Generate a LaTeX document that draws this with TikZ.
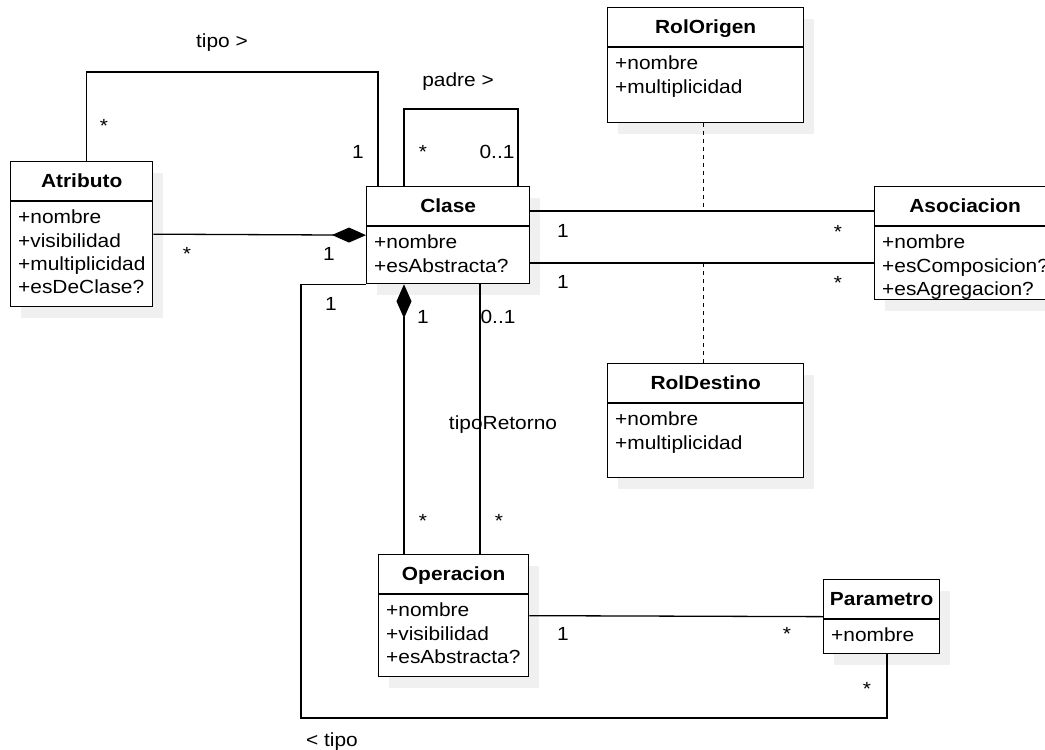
\documentclass[tikz,border=0pt]{standalone}
\usepackage{fontspec}
\setmainfont{Liberation Sans}[FakeStretch=1.1]
\usetikzlibrary{arrows.meta,shadows,calc}

% UML class box: name, left, top, width, height, title, attributes
\newcommand\umlclass[7]{%
  \node[classbox, minimum width=#4pt, minimum height=#5pt] (#1) at (#2,#3) {};
  \draw[link] ([yshift=-40pt]#1.north west) -- ([yshift=-40pt]#1.north east);
  \node[classtitle] (#1-name) at ([yshift=-26.8pt]#1.north) {#6};
  \node[classattr] (#1-attrs) at ([xshift=8pt,yshift=-46.4pt]#1.north west) {#7};
}

\begin{document}
\begin{tikzpicture}[x=1pt, y=-1pt,
  link/.style={draw=black, line width=1.3pt},
  classbox/.style={draw=black, fill=white, line width=1.3pt, inner sep=0pt, anchor=north west,
    general shadow={fill=black!6, shadow xshift=10pt, shadow yshift=-11pt}},
  classtitle/.style={font=\fontsize{19}{23.3}\selectfont\bfseries, inner sep=0pt, anchor=base},
  classattr/.style={font=\fontsize{19}{23.3}\selectfont, align=left, inner sep=0pt, anchor=north west},
  lbl/.style={font=\fontsize{19}{23.3}\selectfont, inner sep=0pt, anchor=base},
  compose/.style={link, -{Diamond[length=34pt,width=15pt]}},
  rolelink/.style={link, dash pattern=on 4pt off 4pt},
]
\useasboundingbox (0,0) rectangle (1045,750);
\clip (0,0) rectangle (1045,750);
\fill[white] (0,0) rectangle (1045,750);

% classes
\umlclass{atributo}{10}{161}{142}{145}{Atributo}{\strut+nombre\\+visibilidad\\+multiplicidad\\+esDeClase?}
\umlclass{clase}{366}{186}{163}{97}{Clase}{\strut+nombre\\+esAbstracta?}
\umlclass{asociacion}{874}{186}{181}{113}{Asociacion}{\strut+nombre\\+esComposicion?\\+esAgregacion?}
\umlclass{rolorigen}{607}{7}{196}{115}{RolOrigen}{\strut+nombre\\+multiplicidad}
\umlclass{roldestino}{607}{363}{196}{114}{RolDestino}{\strut+nombre\\+multiplicidad}
\umlclass{operacion}{378}{554}{150}{122}{Operacion}{\strut+nombre\\+visibilidad\\+esAbstracta?}
\umlclass{parametro}{823}{579}{116}{74}{Parametro}{\strut+nombre}

% Atributo -> Clase (tipo)
\draw[link] ([xshift=5pt]atributo.north) -- ++(0,-89) -| ([xshift=12pt]clase.north west);
% Clase self association (padre)
\draw[link] ([xshift=38pt]clase.north west) -- ++(0,-77) -| ([xshift=152pt]clase.north west);
% Clase composed of Atributo
\draw[compose] (atributo.east) -- (clase.west);

% Clase -- Asociacion (origin and target ends)
\draw[link] ([yshift=-25pt]clase.north east) coordinate (ca1) -- ([yshift=-25pt]asociacion.north west);
\draw[link] ([yshift=-77pt]clase.north east) coordinate (ca2) -- ([yshift=-77pt]asociacion.north west);
\coordinate (ro) at ([xshift=-2pt]rolorigen.south);
\coordinate (rd) at ([xshift=-2pt]roldestino.north);
\draw[rolelink] (ro) -- (ro |- ca1);
\draw[rolelink] (rd |- ca2) -- (rd);

% Clase composed of Operacion, and return type
\draw[compose] ([xshift=26pt]operacion.north west) -- ([xshift=38pt]clase.south west);
\draw[link] ([xshift=102pt]operacion.north west) -- ([xshift=114pt]clase.south west);
% Operacion -- Parametro
\draw[link] (operacion.east) -- (parametro.west);
% Parametro -> Clase (tipo)
\coordinate (tipocorner) at (301,718);
\draw[link] ([xshift=64pt]parametro.south west) |- (tipocorner) |- (clase.south west);

% association labels and multiplicities
\node[lbl] (tipo1) at (222,47) {tipo >};
\node[lbl] (tipo1a) at (104,132.5) {*};
\node[lbl] (tipo1b) at (358,158) {1};
\node[lbl] (padre) at (458,86) {padre >};
\node[lbl] (padrea) at (423,158.5) {*};
\node[lbl] (padreb) at (497,158) {0..1};
\node[lbl] (atra) at (187,260.5) {*};
\node[lbl] (atrb) at (329,260) {1};
\node[lbl] (as1a) at (563,237) {1};
\node[lbl] (as1b) at (838,238) {*};
\node[lbl] (as2a) at (563,288) {1};
\node[lbl] (as2b) at (838,289) {*};
\node[lbl] (tipo2b) at (331,310) {1};
\node[lbl] (opa) at (423,323) {1};
\node[lbl] (reta) at (498,323) {0..1};
\node[lbl] (ret) at (503,429) {tipoRetorno};
\node[lbl] (opb) at (423,527) {*};
\node[lbl] (retb) at (499,527) {*};
\node[lbl] (para) at (563,640) {1};
\node[lbl] (parb) at (787,640) {*};
\node[lbl] (tipo2a) at (867,695.5) {*};
\node[lbl] (tipo2) at (332,746) {< tipo};
\end{tikzpicture}
\end{document}
